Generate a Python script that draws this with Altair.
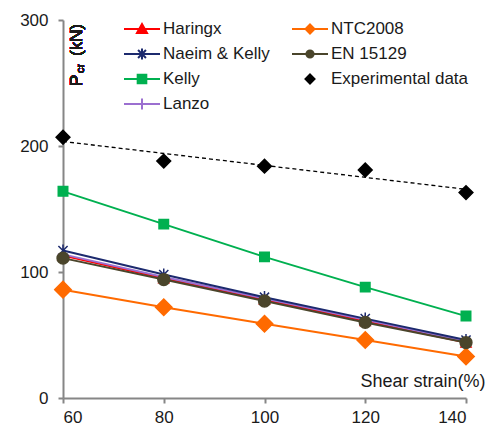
import altair as alt
import pandas as pd

# Shear strain (%) on the horizontal axis
strain = [60, 80, 100, 120, 140]

# Critical load Pcr (kN) for each model and the tests
haringx = [113, 95, 78, 61, 44]
naeim_kelly = [117, 98, 80, 63, 46]
kelly = [164, 138, 112, 88, 65]
lanzo = [114, 96, 79, 62, 45]
ntc2008 = [86, 72, 59, 46, 33]
en15129 = [111, 94, 77, 60, 44]
experimental = [207, 188, 184, 181, 163]

# legend order (two columns, filled column by column)
legend_order = ["Haringx", "Naeim & Kelly", "Kelly", "Lanzo",
                "NTC2008", "EN 15129", "Experimental data"]
series_colors = {
    "Haringx": "#FF0000",
    "NTC2008": "#FF6A00",
    "Naeim & Kelly": "#1C2A6E",
    "EN 15129": "#4A452B",
    "Kelly": "#00B050",
    "Experimental data": "#000000",
    "Lanzo": "#9B6FD0",
}
# marker shapes on the plot (unit box -1..1)
plot_shapes = {
    "Haringx": "triangle-up",
    "NTC2008": "diamond",
    "Naeim & Kelly": "M-0.75,-0.75L0.75,0.75M-0.75,0.75L0.75,-0.75M0,-1L0,1",
    "EN 15129": "circle",
    "Kelly": "square",
    "Experimental data": "diamond",
    "Lanzo": "M-1,0L1,0M0,-1L0,1",
}
plot_sizes = {
    "Haringx": 100, "NTC2008": 270, "Naeim & Kelly": 150, "EN 15129": 140,
    "Kelly": 90, "Experimental data": 190, "Lanzo": 110,
}
# legend glyphs: a short line with the marker in the middle
legend_shapes = {
    "Haringx": "M-1,0L1,0M-0.28,0.22L0,-0.28L0.28,0.22Z",
    "NTC2008": "M-1,0L1,0M0,-0.25L0.25,0L0,0.25L-0.25,0Z",
    "Naeim & Kelly": "M-1,0L1,0M-0.22,-0.22L0.22,0.22M-0.22,0.22L0.22,-0.22M0,-0.3L0,0.3",
    "EN 15129": "M-1,0L1,0M-0.2,0A0.2,0.2,0,1,1,0.2,0A0.2,0.2,0,1,1,-0.2,0Z",
    "Kelly": "M-1,0L1,0M-0.24,-0.24L0.24,-0.24L0.24,0.24L-0.24,0.24Z",
    "Experimental data": "M0,-0.25L0.25,0L0,0.25L-0.25,0Z",
    "Lanzo": "M-1,0L1,0M0,-0.3L0,0.3",
}

# drawing order: dark EN 15129 markers end up on top
draw_order = [("Kelly", kelly), ("NTC2008", ntc2008), ("Haringx", haringx),
              ("Lanzo", lanzo), ("Naeim & Kelly", naeim_kelly),
              ("EN 15129", en15129), ("Experimental data", experimental)]
rows = []
for name, values in draw_order:
    for s, v in zip(strain, values):
        rows.append({"strain": s, "pcr": v, "series": name})
df = pd.DataFrame(rows)

FONT = "Liberation Sans"
AXIS_GREY = "#868686"
TEXT = "#1a1a1a"

colors = [series_colors[k] for k in legend_order]


def cscale():
    return alt.Scale(domain=legend_order, range=colors)


x_enc = alt.X("strain:Q", scale=alt.Scale(domain=[60, 140], nice=False),
              axis=alt.Axis(values=strain, title="Shear strain(%)",
                            titleX=422, titleY=-12, titleAlign="right",
                            titleBaseline="alphabetic",
                            titleFontSize=18, titleFontWeight="normal",
                            titleColor=TEXT, titleFont=FONT,
                            labelPadding=6))
y_enc = alt.Y("pcr:Q", scale=alt.Scale(domain=[0, 300], nice=False),
              axis=alt.Axis(values=[0, 100, 200, 300], title=None,
                            labelPadding=10))

base = alt.Chart(df)

lines = base.transform_filter(
    alt.datum.series != "Experimental data"
).mark_line(strokeWidth=2).encode(
    x=x_enc, y=y_enc,
    stroke=alt.Stroke("series:N", scale=cscale(), legend=None),
)

trend = base.transform_filter(
    alt.datum.series == "Experimental data"
).transform_regression(
    "strain", "pcr", extent=[60, 140]
).mark_line(color="#000000", strokeWidth=1.3, strokeDash=[4, 3]).encode(
    x="strain:Q", y="pcr:Q"
)

points = base.mark_point(filled=True, opacity=1, strokeWidth=1.5).encode(
    x=x_enc, y=y_enc,
    color=alt.Color("series:N", scale=cscale(), legend=None),
    stroke=alt.Stroke("series:N", scale=cscale(), legend=None),
    shape=alt.Shape("series:N", scale=alt.Scale(
        domain=legend_order, range=[plot_shapes[k] for k in legend_order]), legend=None),
    size=alt.Size("series:N", scale=alt.Scale(
        type="ordinal", domain=legend_order,
        range=[plot_sizes[k] for k in legend_order]), legend=None),
)

legend_props = dict(
    title=None, orient="none", legendX=60, legendY=0, columns=2,
    symbolSize=1296, clipHeight=18, rowPadding=7, columnPadding=21,
    labelFontSize=17, labelFont=FONT, labelColor=TEXT, labelOffset=2,
    padding=0, symbolStrokeWidth=2, symbolOpacity=1,
)

# legend-only layer: no rows, the legend is built from the explicit domains
legend_layer = base.transform_filter("false").mark_point(
    filled=True, opacity=1
).encode(
    fill=alt.Fill("series:N", scale=cscale(), legend=alt.Legend(**legend_props)),
    stroke=alt.Stroke("series:N", scale=cscale(), legend=alt.Legend(**legend_props)),
    shape=alt.Shape("series:N", scale=alt.Scale(
        domain=legend_order, range=[legend_shapes[k] for k in legend_order]),
        legend=alt.Legend(**legend_props)),
)


def label(txt, x, y, size):
    return alt.Chart(df).mark_text(
        angle=270, align="left", baseline="alphabetic",
        font=FONT, fontSize=size, color=TEXT
    ).encode(x=alt.value(x), y=alt.value(y), text=alt.value(txt))


y_title = label("P", 19, 66, 17) + label("cr", 21, 53, 11) + label("(kN)", 19, 36, 17)

chart = alt.layer(lines, trend, points, legend_layer, y_title).resolve_scale(
    color="independent", stroke="independent", shape="independent",
    size="independent", fill="independent",
).properties(
    width=403, height=378,
    padding={"left": 63, "top": 20, "right": 20, "bottom": 32},
    autosize=alt.AutoSizeParams(type="none"),
).configure_view(stroke=None).configure_axis(
    grid=False, domainColor=AXIS_GREY, domainWidth=2,
    tickColor=AXIS_GREY, tickWidth=2, tickSize=5,
    labelFont=FONT, labelFontSize=17, labelColor=TEXT,
)

chart.save("out.html", embed_options={"renderer": "svg", "actions": False})
